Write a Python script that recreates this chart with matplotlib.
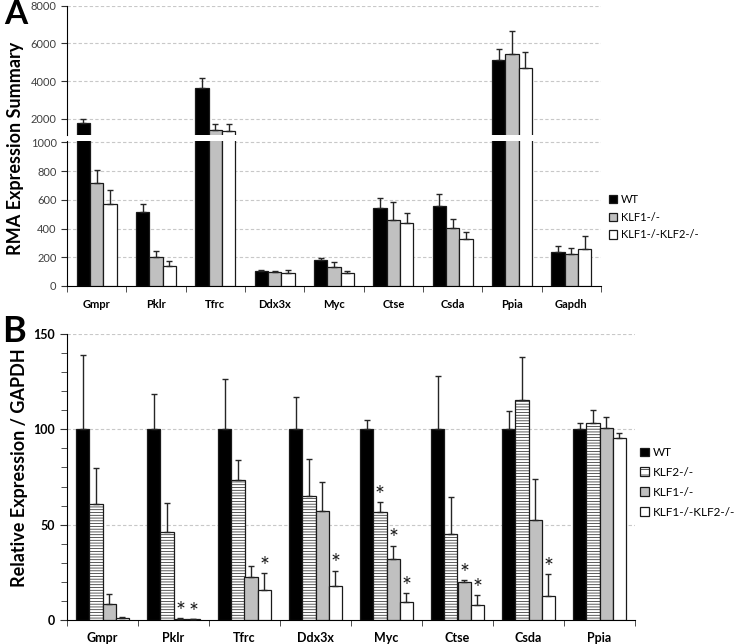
import numpy as np
import matplotlib
matplotlib.use("Agg")
import matplotlib.pyplot as plt
from matplotlib.patches import Patch

plt.rcParams['font.family'] = ['Lato', 'DejaVu Sans']
plt.rcParams['hatch.linewidth'] = 0.5

# panel A data (RMA expression summary)
genes_a = ['Gmpr', 'Pklr', 'Tfrc', 'Ddx3x', 'Myc', 'Ctse', 'Csda', 'Ppia', 'Gapdh']
wt_a = [1770, 513, 3624, 105, 180, 543, 559, 5122, 236]
wt_a_err = [230, 56, 546, 4, 18, 67, 84, 598, 44]
klf1_a = [720, 203, 1434, 97, 133, 462, 401, 5423, 226]
klf1_a_err = [91, 39, 286, 10, 33, 120, 68, 1249, 42]
dko_a = [573, 142, 1365, 89, 89, 436, 329, 4714, 257]
dko_a_err = [93, 35, 355, 21, 16, 70, 44, 831, 88]

# panel B data (relative expression / GAPDH)
genes_b = ['Gmpr', 'Pklr', 'Tfrc', 'Ddx3x', 'Myc', 'Ctse', 'Csda', 'Ppia']
wt_b = [100, 100, 100, 100, 100, 100, 100, 100]
wt_b_err = [38.8, 18.4, 26.4, 17.0, 4.9, 28.0, 9.6, 3.1]
klf2_b = [60.7, 46.3, 73.4, 65.2, 56.6, 44.9, 115.4, 103.5]
klf2_b_err = [18.8, 14.9, 10.6, 19.4, 5.1, 19.8, 22.3, 6.5]
klf1_b = [8.6, 0.5, 22.7, 57.3, 32.0, 19.8, 52.3, 100.5]
klf1_b_err = [5.0, 0.3, 5.6, 14.9, 7.0, 1.2, 21.5, 6.1]
dko_b = [1.0, 0.3, 15.7, 17.7, 9.4, 8.0, 12.8, 95.6]
dko_b_err = [0.5, 0.2, 8.8, 8.2, 4.8, 5.1, 11.3, 2.4]
# significance stars: (gene index, series index 1=KLF2 2=KLF1 3=DKO)
stars = [(1, 2), (1, 3), (2, 3), (3, 3), (4, 1), (4, 2), (4, 3), (5, 2), (5, 3), (6, 3)]

fig = plt.figure(figsize=(7.4, 6.44), dpi=100)

grid_kw = dict(color='#c8c8c8', linestyle=(0, (3, 2)), linewidth=0.8)
edge = '#1a1a1a'


def style_x(ax, n):
    ax.set_xlim(-0.5, n - 0.5)
    ax.set_xticks(np.arange(n))
    ax.set_xticks(np.arange(n + 1) - 0.5, minor=True)
    ax.tick_params(axis='x', which='major', length=0, pad=9)
    ax.tick_params(axis='x', which='minor', length=4, direction='out', color='#333333')


# ---------- panel A (broken axis) ----------
left, width = 67 / 740, 534 / 740
ax_up = fig.add_axes([left, 1 - 135 / 644, width, 129.3 / 644])
ax_lo = fig.add_axes([left, 1 - 286 / 644, width, 145 / 644])

xa = np.arange(len(genes_a))
wa = 0.226
series_a = [(wt_a, wt_a_err, 'black'), (klf1_a, klf1_a_err, '#c0c0c0'), (dko_a, dko_a_err, 'white')]
for ax in (ax_up, ax_lo):
    for i, (vals, errs, col) in enumerate(series_a):
        pos = xa + (i - 1) * wa
        ax.bar(pos, vals, wa, color=col, edgecolor=edge, linewidth=0.9, zorder=3)
        ax.errorbar(pos, vals, yerr=[np.zeros(len(vals)), errs], fmt='none',
                    ecolor='#262626', elinewidth=1, capsize=2, capthick=1, zorder=4)
    for s in ('top', 'right'):
        ax.spines[s].set_visible(False)
    ax.tick_params(axis='y', length=4, labelsize=8, labelcolor='#404040', color='#333333')

ax_up.set_ylim(1150, 8000)
ax_up.set_yticks([2000, 4000, 6000, 8000])
ax_up.spines['bottom'].set_visible(False)
ax_up.set_xlim(-0.5, len(genes_a) - 0.5)
ax_up.set_xticks([])
for v in [2000, 4000, 6000, 8000]:
    ax_up.axhline(v, **grid_kw, zorder=1)

ax_lo.set_ylim(0, 1010)
ax_lo.set_yticks([0, 200, 400, 600, 800, 1000])
for v in [200, 400, 600, 800, 1000]:
    ax_lo.axhline(v, **grid_kw, zorder=1)
style_x(ax_lo, len(genes_a))
ax_lo.set_xticklabels(genes_a, fontweight='bold', fontsize=8)

fig.text(0.021, 1 - 148 / 644, 'RMA Expression Summary', rotation=90, ha='center', va='center',
         fontsize=13, fontweight='bold')
fig.text(0.005, 1 - 14 / 644, 'A', ha='left', va='center', fontsize=24, fontweight='bold')

hA = [Patch(facecolor=c, edgecolor=edge, linewidth=0.9) for c in ['black', '#c0c0c0', 'white']]
fig.legend(hA, ['WT', 'KLF1-/-', 'KLF1-/-KLF2-/-'], loc='upper left',
           bbox_to_anchor=(609 / 740, 1 - 194 / 644), frameon=False, fontsize=8,
           handlelength=0.75, handleheight=0.75, handletextpad=0.3, labelspacing=0.6,
           borderpad=0, borderaxespad=0)

# ---------- panel B ----------
ax_b = fig.add_axes([left, 1 - 620 / 644, 568 / 740, 286 / 644])
xb = np.arange(len(genes_b))
wb = 0.185
series_b = [(wt_b, wt_b_err, 'black', None), (klf2_b, klf2_b_err, 'white', '------'),
            (klf1_b, klf1_b_err, '#c0c0c0', None), (dko_b, dko_b_err, 'white', None)]
tops = []
for i, (vals, errs, col, hatch) in enumerate(series_b):
    pos = xb + (i - 1.5) * wb
    ax_b.bar(pos, vals, wb, color=col, edgecolor=edge, linewidth=0.9, hatch=hatch, zorder=3)
    ax_b.errorbar(pos, vals, yerr=[np.zeros(len(vals)), errs], fmt='none',
                  ecolor='#262626', elinewidth=1, capsize=2, capthick=1, zorder=4)
    tops.append((pos, np.array(vals) + np.array(errs)))

for g, s in stars:
    pos, top = tops[s]
    ax_b.text(pos[g], top[g] + 3.5, '*', ha='center', va='center', fontsize=17,
              color='#1a1a1a', zorder=5)

ax_b.set_ylim(0, 150)
ax_b.set_yticks([0, 50, 100, 150])
ax_b.set_yticks(np.arange(0, 151, 10), minor=True)
ax_b.tick_params(axis='y', which='major', length=5, labelsize=9, color='#333333')
ax_b.tick_params(axis='y', which='minor', length=4, color='#333333')
for lab in ax_b.get_yticklabels():
    lab.set_fontweight('bold')
for v in [50, 100, 150]:
    ax_b.axhline(v, **grid_kw, zorder=1)
for s in ('top', 'right'):
    ax_b.spines[s].set_visible(False)
style_x(ax_b, len(genes_b))
ax_b.set_xticklabels(genes_b, fontweight='bold', fontsize=9)

fig.text(0.027, 1 - 468 / 644, 'Relative Expression / GAPDH', rotation=90, ha='center',
         va='center', fontsize=13, fontweight='bold')
fig.text(0.003, 1 - 331 / 644, 'B', ha='left', va='center', fontsize=26, fontweight='bold')

hB = [Patch(facecolor='black', edgecolor=edge, linewidth=0.9),
      Patch(facecolor='white', edgecolor=edge, linewidth=0.9, hatch='---'),
      Patch(facecolor='#c0c0c0', edgecolor=edge, linewidth=0.9),
      Patch(facecolor='white', edgecolor=edge, linewidth=0.9)]
fig.legend(hB, ['WT', 'KLF2-/-', 'KLF1-/-', 'KLF1-/-KLF2-/-'], loc='upper left',
           bbox_to_anchor=(640 / 740, 1 - 447 / 644), frameon=False, fontsize=8.5,
           handlelength=0.75, handleheight=0.75, handletextpad=0.3, labelspacing=0.75,
           borderpad=0, borderaxespad=0)

fig.savefig('out.png', dpi=100)
